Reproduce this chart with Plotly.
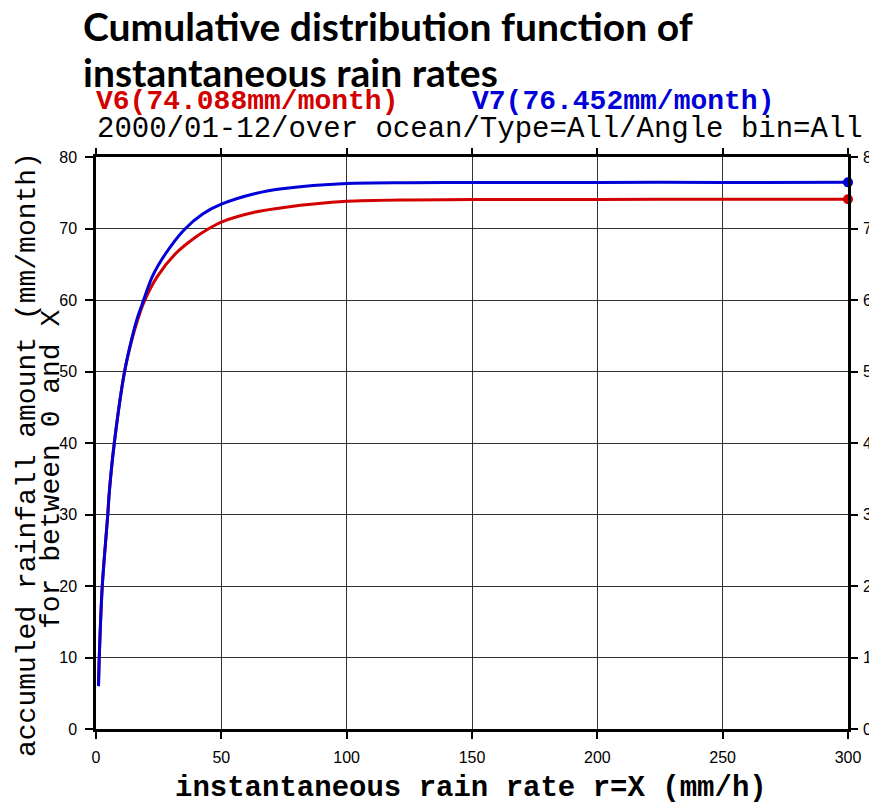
import plotly.graph_objects as go

# data
rate_v7 = [1.0, 1.3, 2.5, 4.7, 5.3, 7.3, 11.4, 14.2, 16.5, 18.6, 22.5, 27.8, 35.1, 42.4, 50, 63.6, 75, 100, 125, 150, 200, 250, 300]
v7 = [6, 10, 20, 30, 33.1, 40, 50, 54.5, 57.5, 59.6, 63.3, 66.5, 69.8, 72.0, 73.4, 74.9, 75.6, 76.3, 76.4, 76.43, 76.45, 76.45, 76.452]
rate_v6 = [1.0, 1.3, 2.5, 4.7, 5.3, 7.3, 11.4, 14.2, 16.5, 19.0, 24.5, 31.8, 39.8, 45.1, 50, 63.6, 75, 100, 125, 150, 200, 250, 300]
v6 = [6, 10, 20, 30, 33.1, 40, 50, 54.3, 57.1, 59.6, 63.3, 66.5, 68.8, 70.0, 70.9, 72.3, 72.95, 73.8, 74.0, 74.05, 74.07, 74.08, 74.088]
v6_total = 74.088
v7_total = 76.452
xticks = [0, 50, 100, 150, 200, 250, 300]
yticks = [0, 10, 20, 30, 40, 50, 60, 70, 80]

RED = "rgb(210,0,0)"
BLUE = "rgb(0,0,215)"

W, H = 869, 804
L, R, T, B = 96, 21, 157, 75
pw, ph = W - L - R, H - T - B


def px(x):
    return (x - L) / pw


def py(y):
    return (H - B - y) / ph


fig = go.Figure()
fig.add_trace(go.Scatter(x=rate_v6, y=v6, mode="lines", line=dict(color=RED, width=3, shape="spline", smoothing=0.8),
                         showlegend=False))
fig.add_trace(go.Scatter(x=rate_v7, y=v7, mode="lines", line=dict(color=BLUE, width=3, shape="spline", smoothing=0.8),
                         showlegend=False))
fig.add_trace(go.Scatter(x=[rate_v6[-1]], y=[v6_total], mode="markers", marker=dict(color=RED, size=10),
                         xaxis="x2", yaxis="y2", showlegend=False, cliponaxis=False))
fig.add_trace(go.Scatter(x=[rate_v7[-1]], y=[v7_total], mode="markers", marker=dict(color=BLUE, size=10),
                         xaxis="x2", yaxis="y2", showlegend=False, cliponaxis=False))

tickfont = dict(family="Liberation Sans, Arial", size=16, color="black")
mono = "Liberation Mono, Courier New, monospace"

axcommon = dict(showline=True, linecolor="black", linewidth=2.5, ticks="outside", tickcolor="black",
                tickwidth=2, zeroline=False, tickfont=tickfont, automargin=False)

fig.update_layout(
    width=W, height=H,
    margin=dict(l=L, r=R, t=T, b=B, pad=0),
    paper_bgcolor="white", plot_bgcolor="white",
    xaxis=dict(range=[0, 300], tickvals=xticks, ticklen=7, showgrid=True, gridcolor="rgba(0,0,0,0.8)", gridwidth=1,
               ticklabelstandoff=5, **axcommon),
    yaxis=dict(range=[0, 80], tickvals=yticks, ticklen=8, showgrid=True, gridcolor="rgba(0,0,0,0.8)", gridwidth=1,
               ticklabelstandoff=5, **axcommon),
    xaxis2=dict(range=[0, 300], tickvals=xticks, ticklen=6, overlaying="x", side="top", showticklabels=False,
                showgrid=False, **axcommon),
    yaxis2=dict(range=[0, 80], tickvals=yticks, ticklen=7, overlaying="y", side="right", showgrid=False,
                ticklabelstandoff=2, **axcommon),
)

# axis titles
fig.add_annotation(text="<b>instantaneous rain rate r=X (mm/h)</b>", xref="paper", yref="paper",
                   x=px(471), y=py(788), xanchor="center", yanchor="middle", showarrow=False,
                   font=dict(family=mono, size=29, color="black"))
fig.add_annotation(text="accumuled rainfall amount (mm/month)", xref="paper", yref="paper",
                   x=px(27), y=py(455), xanchor="center", yanchor="middle", showarrow=False, textangle=-90,
                   font=dict(family=mono, size=28, color="black"))
fig.add_annotation(text="for between 0 and X", xref="paper", yref="paper",
                   x=px(51), y=py(470), xanchor="center", yanchor="middle", showarrow=False, textangle=-90,
                   font=dict(family=mono, size=28, color="black"))

# titles
fig.add_annotation(text="<b>Cumulative distribution function of</b>", xref="paper", yref="paper",
                   x=px(81), y=py(26), xanchor="left", yanchor="middle", showarrow=False,
                   font=dict(family="Lato, Open Sans, sans-serif", size=39, color="black"))
fig.add_annotation(text="<b>instantaneous rain rates</b>", xref="paper", yref="paper",
                   x=px(81), y=py(72), xanchor="left", yanchor="middle", showarrow=False,
                   font=dict(family="Lato, Open Sans, sans-serif", size=39, color="black"))
fig.add_annotation(text="<b>V6(%.3fmm/month)</b>" % v6_total, xref="paper", yref="paper",
                   x=px(94), y=py(102), xanchor="left", yanchor="middle", showarrow=False,
                   font=dict(family=mono, size=28, color=RED))
fig.add_annotation(text="<b>V7(%.3fmm/month)</b>" % v7_total, xref="paper", yref="paper",
                   x=px(470), y=py(102), xanchor="left", yanchor="middle", showarrow=False,
                   font=dict(family=mono, size=28, color=BLUE))
fig.add_annotation(text="2000/01-12/over ocean/Type=All/Angle bin=All", xref="paper", yref="paper",
                   x=px(95), y=py(130), xanchor="left", yanchor="middle", showarrow=False,
                   font=dict(family=mono, size=29, color="black"))

fig.write_html("out.html")
